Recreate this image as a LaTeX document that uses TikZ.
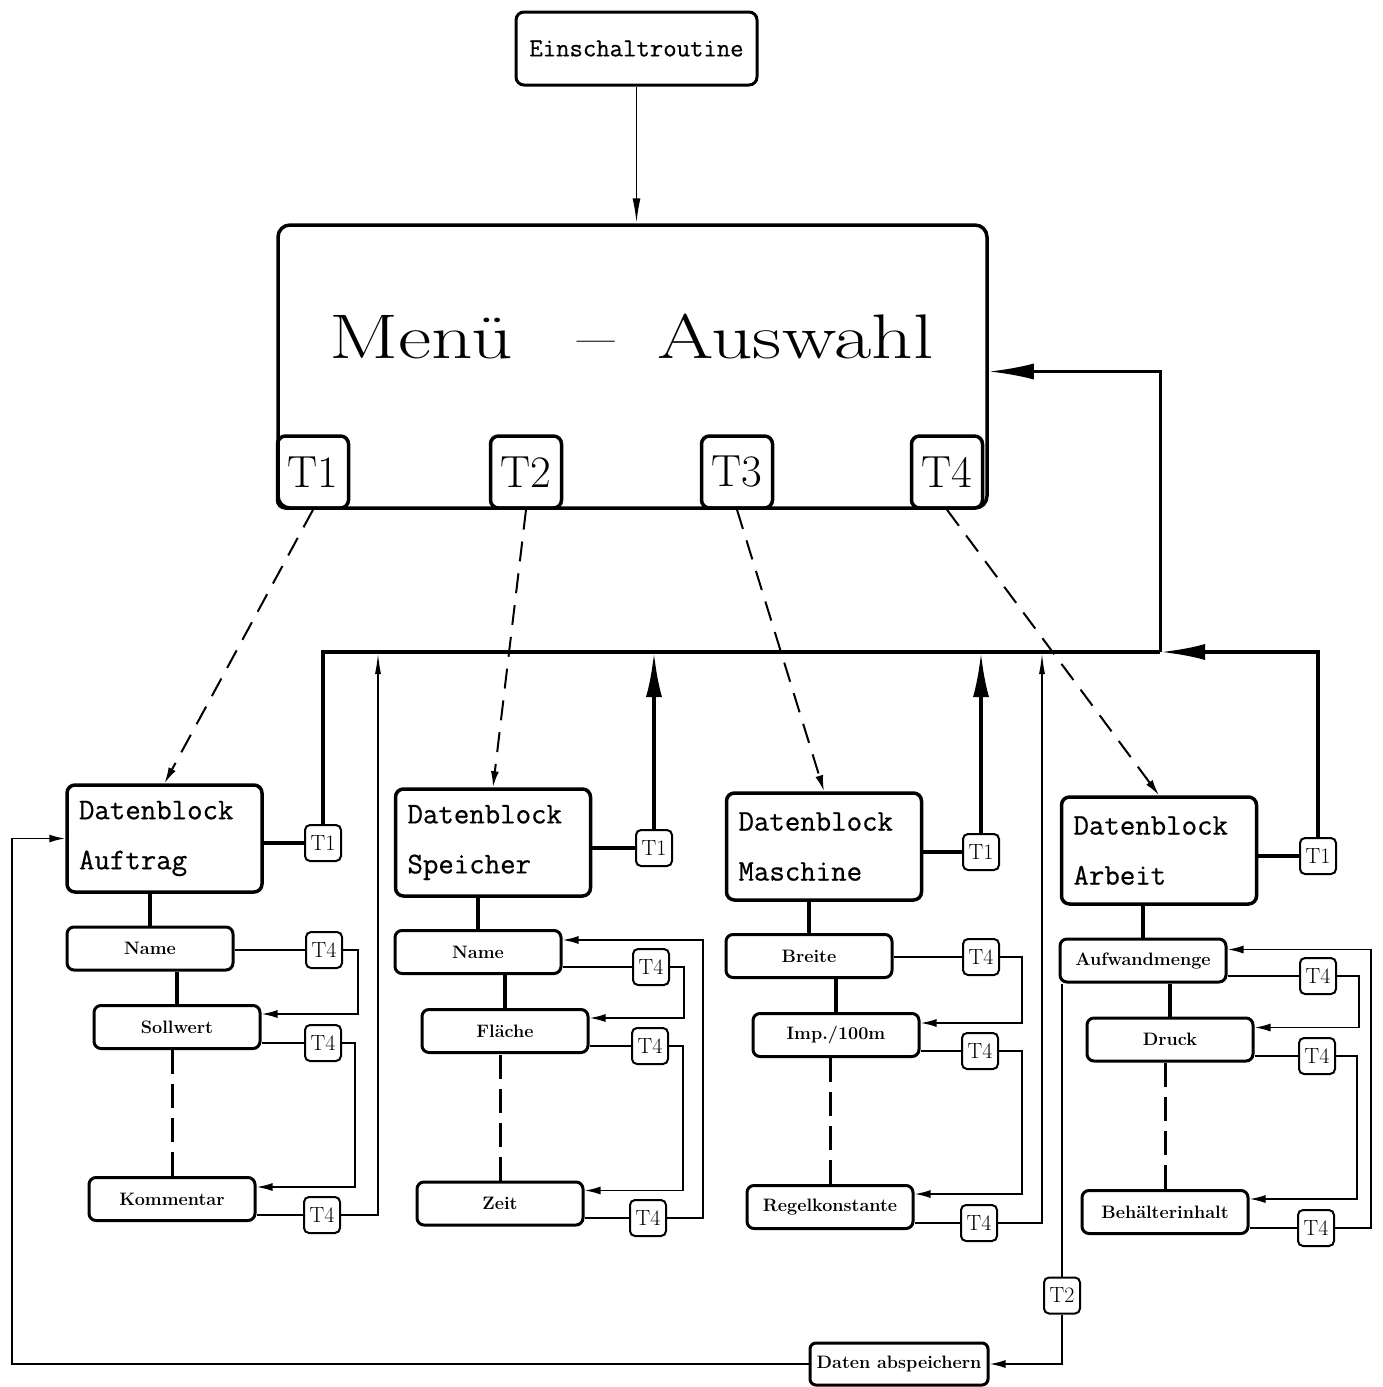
\documentclass[tikz,border=0pt]{standalone}
\usepackage{graphicx}
\usepackage{fontspec}
\newfontfamily\typeb{Latin Modern Mono}[FakeBold=0.6]
\usetikzlibrary{arrows.meta}
\begin{document}
\begin{tikzpicture}[x=1pt,y=-1pt,
  menubox/.style={draw,line width=3.5pt,rounded corners=12pt,minimum width=709pt,minimum height=283pt,inner sep=0pt},
  menut/.style={draw,line width=3.5pt,rounded corners=8pt,minimum width=71pt,minimum height=72pt,inner sep=0pt,font=\fontsize{45}{45}\selectfont},
  topbox/.style={draw,line width=3pt,rounded corners=8pt,minimum width=241pt,minimum height=73pt,inner sep=0pt,font=\fontsize{26}{26}\selectfont\typeb},
  dblock/.style={draw,line width=3.5pt,rounded corners=8pt,minimum height=107pt,text width=171pt,inner xsep=12pt,inner ysep=0pt,align=left,font=\fontsize{30}{50}\selectfont\typeb},
  itembox/.style={draw,line width=3pt,rounded corners=7pt,minimum width=166pt,minimum height=43pt,inner sep=0pt,font=\bfseries\fontsize{18}{18}\selectfont},
  savebox/.style={draw,line width=3pt,rounded corners=6pt,minimum width=178pt,minimum height=42pt,inner sep=0pt,font=\bfseries\fontsize{18}{18}\selectfont},
  tkey/.style={draw,line width=2pt,rounded corners=5pt,minimum width=36pt,minimum height=36pt,inner sep=0pt,font=\fontsize{22}{22}\selectfont},
  wire/.style={line width=1.8pt},
  thickw/.style={line width=4pt},
  bus/.style={line width=4pt},
  dashw/.style={line width=2pt,dash pattern=on 20pt off 12pt},
  dashv/.style={line width=3pt,dash pattern=on 24pt off 10pt},
  bigtip/.style={-{Latex[length=45pt,width=16pt]}},
  smalltip/.style={-{Latex[length=16pt,width=8pt]}},
  thintip/.style={-{Latex[length=22pt,width=6pt]}}
]
\useasboundingbox (0,0) rectangle (1382,1387);

% top
\node[topbox] (ein) at (636.5,48.5) {Einschaltroutine};
\node[menubox] (menu) at (632.5,366.5) {};
\node (mtxt) at (631.5,336) {\fontsize{63}{63}\selectfont\scalebox{1.29}[1]{Menü\hspace{50pt}–\hspace{33pt}Auswahl}};
\node[menut] (mT1) at (313,472) {T1};
\node[menut] (mT2) at (526,472) {T2};
\node[menut] (mT3) at (737,472) {T3};
\node[menut] (mT4) at (947,472) {T4};
\draw[wire,-{Latex[length=25pt,width=8pt]}] (ein.south) -- (ein.south |- menu.north);

% data blocks
\node[dblock] (DA) at (164.5,838.5) {Datenblock\\Auftrag};
\node[dblock] (DS) at (493,842.5) {Datenblock\\Speicher};
\node[dblock] (DM) at (824,846.5) {Datenblock\\Maschine};
\node[dblock] (DR) at (1159,850.5) {Datenblock\\Arbeit};

\draw[dashw,smalltip] (mT1.south) -- (DA.north);
\draw[dashw,smalltip] (mT2.south) -- (DS.north);
\draw[dashw,smalltip] (mT3.south) -- (DM.north);
\draw[dashw,smalltip] (mT4.south) -- (DR.north);

% T1 keys
\node[tkey] (tA) at (323,843) {T1};
\node[tkey] (tS) at (654,848) {T1};
\node[tkey] (tM) at (981,852) {T1};
\node[tkey] (tR) at (1318,856) {T1};
\draw[thickw] (DA.east |- tA.west) -- (tA.west);
\draw[thickw] (DS.east |- tS.west) -- (tS.west);
\draw[thickw] (DM.east |- tM.west) -- (tM.west);
\draw[thickw] (DR.east |- tR.west) -- (tR.west);

% bus
\coordinate (busR) at (1160,652);
\coordinate (busA) at (378,652);
\coordinate (busM) at (1042,652);
\draw[bus] (tA.north) |- (busR);
\draw[bus,bigtip] (tS.north) -- (tS.north |- busR);
\draw[bus,bigtip] (tM.north) -- (tM.north |- busR);
\draw[bus,bigtip] (tR.north) |- (busR);
\draw[line width=3pt,bigtip] (busR) |- ([yshift=-5pt]menu.east);

% column Auftrag
\node[itembox] (name1) at (150,948.5) {Name};
\node[itembox] (soll) at (177,1027) {Sollwert};
\node[itembox] (komm) at (172,1199) {Kommentar};
\draw[thickw] (name1.north) -- (name1.north |- DA.south);
\draw[thickw] (soll.north) -- (soll.north |- name1.south);
\draw[dashv] (komm.north) -- (komm.north |- soll.south);
\node[tkey] (a41) at (324,950) {T4};
\node[tkey] (a42) at (323,1043) {T4};
\node[tkey] (a43) at (322,1215) {T4};
\draw[wire] (name1.east |- a41.west) -- (a41.west);
\draw[wire,smalltip] (a41.east) -- ++(15,0) |- ([yshift=13pt]soll.east);
\draw[wire] (soll.east |- a42.west) -- (a42.west);
\draw[wire,smalltip] (a42.east) -- ++(13,0) |- ([yshift=12pt]komm.east);
\draw[wire] (komm.east |- a43.west) -- (a43.west);
\draw[wire,thintip] (a43.east) -| (busA);

% column Speicher
\node[itembox] (name2) at (478,952) {Name};
\node[itembox] (flae) at (505,1031) {Fläche};
\node[itembox] (zeit) at (500,1203.5) {Zeit};
\draw[thickw] (name2.north) -- (name2.north |- DS.south);
\draw[thickw] (flae.north) -- (flae.north |- name2.south);
\draw[dashv] (zeit.north) -- (zeit.north |- flae.south);
\node[tkey] (s41) at (651,967) {T4};
\node[tkey] (s42) at (650,1046) {T4};
\node[tkey] (s43) at (648,1218) {T4};
\draw[wire] (name2.east |- s41.west) -- (s41.west);
\draw[wire,smalltip] (s41.east) -- ++(14,0) |- ([yshift=13pt]flae.east);
\draw[wire] (flae.east |- s42.west) -- (s42.west);
\draw[wire,smalltip] (s42.east) -- ++(14,0) |- ([yshift=13pt]zeit.east);
\draw[wire] (zeit.east |- s43.west) -- (s43.west);
\draw[wire,smalltip] (s43.east) -- ++(36,0) |- ([yshift=12pt]name2.east);

% column Maschine
\node[itembox] (breite) at (809,956) {Breite};
\node[itembox] (imp) at (836,1035) {Imp./100m};
\node[itembox] (regel) at (830,1207) {Regelkonstante};
\draw[thickw] (breite.north) -- (breite.north |- DM.south);
\draw[thickw] (imp.north) -- (imp.north |- breite.south);
\draw[dashv] (regel.north) -- (regel.north |- imp.south);
\node[tkey] (m41) at (981,957) {T4};
\node[tkey] (m42) at (980,1051) {T4};
\node[tkey] (m43) at (979,1223) {T4};
\draw[wire] (breite.east |- m41.west) -- (m41.west);
\draw[wire,smalltip] (m41.east) -- ++(22,0) |- ([yshift=12pt]imp.east);
\draw[wire] (imp.east |- m42.west) -- (m42.west);
\draw[wire,smalltip] (m42.east) -- ++(23,0) |- ([yshift=13pt]regel.east);
\draw[wire] (regel.east |- m43.west) -- (m43.west);
\draw[wire,thintip] (m43.east) -| (busM);

% column Arbeit
\node[itembox] (aufw) at (1143,960.5) {Aufwandmenge};
\node[itembox] (druck) at (1170,1039.5) {Druck};
\node[itembox] (beh) at (1165,1212) {Behälterinhalt};
\draw[thickw] (aufw.north) -- (aufw.north |- DR.south);
\draw[thickw] (druck.north) -- (druck.north |- aufw.south);
\draw[dashv] (beh.north) -- (beh.north |- druck.south);
\node[tkey] (r41) at (1318,976) {T4};
\node[tkey] (r42) at (1317,1056) {T4};
\node[tkey] (r43) at (1316,1228) {T4};
\draw[wire] (aufw.east |- r41.west) -- (r41.west);
\draw[wire,smalltip] (r41.east) -- ++(22,0) |- ([yshift=12pt]druck.east);
\draw[wire] (druck.east |- r42.west) -- (r42.west);
\draw[wire,smalltip] (r42.east) -- ++(21,0) |- ([yshift=13pt]beh.east);
\draw[wire] (beh.east |- r43.west) -- (r43.west);
\draw[wire,smalltip] (r43.east) -- ++(36,0) |- ([yshift=11pt]aufw.east);

% save
\node[savebox] (daten) at (899,1364) {Daten abspeichern};
\node[tkey] (t2) at (1062,1295.5) {T2};
\draw[wire] (aufw.south -| t2.north) -- (t2.north);
\draw[wire,smalltip] (t2.south) |- (daten.east);
\draw[wire,smalltip] (daten.west) -- (12,1364) |- (DA.west);
\end{tikzpicture}
\end{document}
